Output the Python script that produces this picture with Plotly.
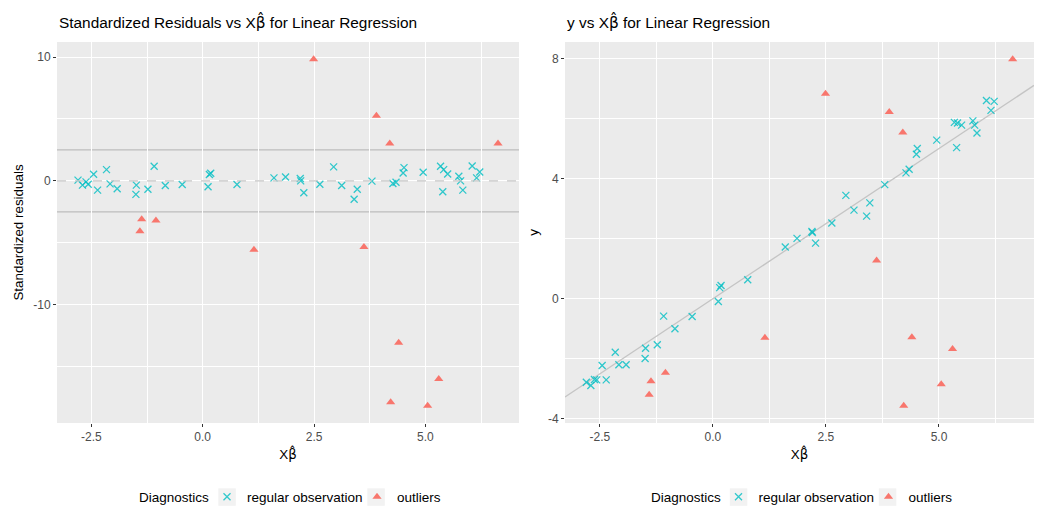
import plotly.graph_objects as go

# ---- data ----
xhat_regular = [-2.80, -2.70, -2.62, -2.57, -2.45, -2.36, -2.16, -2.08, -1.92, -1.49,
                -1.50, -1.23, -1.09, -0.84, -0.46, 0.12, 0.15, 0.18, 0.77, 1.60,
                1.86, 2.19, 2.20, 2.27, 2.63, 2.94, 3.12, 3.47, 3.40, 3.80,
                4.27, 4.34, 4.52, 4.50, 4.95, 5.34, 5.41, 5.50, 5.39, 5.75,
                5.79, 5.84, 6.05, 6.22, 6.15]
resid_regular = [0.06, -0.34, -0.08, -0.27, 0.54, -0.75, 0.91, -0.24, -0.64, -0.34,
                 -1.09, -0.67, 1.18, -0.37, -0.29, -0.48, 0.51, 0.62, -0.29, 0.24,
                 0.32, 0.19, 0.00, -0.96, -0.27, 1.13, -0.37, -0.67, -1.49, -0.02,
                 -0.21, -0.11, 1.07, 0.64, 0.70, 1.18, 0.91, 0.56, -0.88, 0.38,
                 0.00, -0.75, 1.20, 0.72, 0.24]
y_regular = [-2.78, -2.89, -2.69, -2.70, -2.22, -2.70, -1.78, -2.20, -2.20, -1.65,
             -1.99, -1.53, -0.58, -1.00, -0.59, -0.09, 0.37, 0.44, 0.63, 1.72,
             2.01, 2.24, 2.20, 1.85, 2.52, 3.44, 2.95, 3.19, 2.75, 3.80,
             4.19, 4.31, 5.00, 4.81, 5.28, 5.87, 5.85, 5.78, 5.03, 5.92,
             5.78, 5.52, 6.60, 6.57, 6.27]

xhat_outliers = [-1.37, -1.41, -1.05, 1.15, 2.49, 3.90, 4.20, 6.63, 3.62, 4.40, 5.30, 4.22, 5.05]
resid_outliers = [-3.10, -4.06, -3.21, -5.56, 9.82, 5.27, 3.02, 3.02, -5.34, -13.07, -16.0, -17.88, -18.16]
y_outliers = [-2.75, -3.20, -2.46, -1.30, 6.82, 6.22, 5.53, 7.97, 1.27, -1.28, -1.67, -3.56, -2.85]

cutoff = 2.5
group_names = ["regular observation", "outliers"]
legend_title = "Diagnostics"
color_regular = "#00BFC4"
color_outlier = "#F8766D"

W, H = 1040, 506
FONT = "Liberation Sans, Arial, sans-serif"
BHAT = "X<span style=\"font-family:DejaVu Sans\">β̂</span>"


def expand(vals, f=0.05):
    lo, hi = min(vals), max(vals)
    d = (hi - lo) * f
    return [lo - d, hi + d]


x_all = xhat_regular + xhat_outliers
xr = expand(x_all)
yr_left = expand(resid_regular + resid_outliers)
yr_right = expand(y_regular + y_outliers)

fig = go.Figure()

mk_reg = dict(symbol="x-thin", size=7, color=color_regular,
              line=dict(width=1.3, color=color_regular), opacity=0.8)
mk_out = dict(symbol="triangle-up", size=8, color=color_outlier, line=dict(width=0))

# left panel
fig.add_trace(go.Scatter(x=xhat_regular, y=resid_regular, mode="markers", marker=mk_reg,
                         name=group_names[0], xaxis="x", yaxis="y", legend="legend"))
fig.add_trace(go.Scatter(x=xhat_outliers, y=resid_outliers, mode="markers", marker=mk_out,
                         name=group_names[1], xaxis="x", yaxis="y", legend="legend"))
# right panel
fig.add_trace(go.Scatter(x=xr, y=xr, mode="lines", line=dict(color="#c4c4c4", width=1.3),
                         showlegend=False, hoverinfo="skip", xaxis="x2", yaxis="y2"))
fig.add_trace(go.Scatter(x=xhat_regular, y=y_regular, mode="markers", marker=mk_reg,
                         name=group_names[0], xaxis="x2", yaxis="y2", legend="legend2"))
fig.add_trace(go.Scatter(x=xhat_outliers, y=y_outliers, mode="markers", marker=mk_out,
                         name=group_names[1], xaxis="x2", yaxis="y2", legend="legend2"))

L1, R1 = 57 / W, 519 / W
L2, R2 = 565 / W, 1034 / W
T, B = 1 - 42 / H, 1 - 423 / H
SHIFT = 511.5  # px offset between the two panels' legends

axis_common = dict(
    showgrid=True, gridcolor="white", gridwidth=1.1, zeroline=False,
    ticks="outside", ticklen=3, tickcolor="#333333", tickwidth=1,
    tickfont=dict(family=FONT, size=12, color="#4D4D4D"),
    showline=False, mirror=False,
)
title_font = dict(family=FONT, size=13.4, color="black")

leg_common = dict(orientation="h", xanchor="left", y=1 - 497 / H, yanchor="middle",
                  font=dict(family=FONT, size=13.5, color="black"), bgcolor="rgba(0,0,0,0)",
                  itemwidth=30, entrywidth=105, entrywidthmode="pixels", borderwidth=0)

fig.update_layout(
    width=W, height=H,
    margin=dict(l=0, r=0, t=0, b=0, autoexpand=False),
    paper_bgcolor="white", plot_bgcolor="#EBEBEB",
    font=dict(family=FONT, color="black"),
    xaxis=dict(axis_common, domain=[L1, R1], range=xr, anchor="y",
               tickvals=[-2.5, 0, 2.5, 5], ticktext=["-2.5", "0.0", "2.5", "5.0"],
               minor=dict(tickvals=[-1.25, 1.25, 3.75, 6.25], showgrid=True,
                          gridcolor="white", gridwidth=0.5, ticklen=0),
               title=dict(text=BHAT, font=title_font, standoff=6)),
    yaxis=dict(axis_common, domain=[B, T], range=yr_left, anchor="x",
               tickvals=[-10, 0, 10], ticktext=["-10", "0", "10"],
               minor=dict(tickvals=[-15, -5, 5], showgrid=True,
                          gridcolor="white", gridwidth=0.5, ticklen=0),
               title=dict(text="Standardized residuals", font=title_font, standoff=6)),
    xaxis2=dict(axis_common, domain=[L2, R2], range=xr, anchor="y2",
                tickvals=[-2.5, 0, 2.5, 5], ticktext=["-2.5", "0.0", "2.5", "5.0"],
                minor=dict(tickvals=[-1.25, 1.25, 3.75, 6.25], showgrid=True,
                           gridcolor="white", gridwidth=0.5, ticklen=0),
                title=dict(text=BHAT, font=title_font, standoff=6)),
    yaxis2=dict(axis_common, domain=[B, T], range=yr_right, anchor="x2",
                tickvals=[-4, 0, 4, 8], ticktext=["-4", "0", "4", "8"],
                minor=dict(tickvals=[-2, 2, 6], showgrid=True,
                           gridcolor="white", gridwidth=0.5, ticklen=0),
                title=dict(text="y", font=title_font, standoff=6)),
    legend=dict(leg_common, x=207 / W),
    legend2=dict(leg_common, x=(207 + SHIFT) / W),
    showlegend=True,
)

# reference lines on the residual plot
fig.add_shape(type="line", xref="x domain", yref="y", x0=0, x1=1, y0=0, y1=0,
              line=dict(color="#c8c8c8", width=1.3, dash="dash"), layer="above")
for c in (cutoff, -cutoff):
    fig.add_shape(type="line", xref="x domain", yref="y", x0=0, x1=1, y0=c, y1=c,
                  line=dict(color="#bdbdbd", width=1.3), layer="below")

# legend titles and key backgrounds
for off in (0, SHIFT):
    fig.add_annotation(text=legend_title, xref="paper", yref="paper",
                       x=(211 + off) / W, y=1 - 497 / H, xanchor="right", yanchor="middle",
                       showarrow=False, font=dict(family=FONT, size=13.5, color="black"))
    for kx in (218.3, 367.3):
        fig.add_shape(type="rect", xref="paper", yref="paper",
                      x0=(kx + off) / W, x1=(kx + 17.5 + off) / W,
                      y0=1 - 505.8 / H, y1=1 - 488.3 / H,
                      fillcolor="#F2F2F2", line=dict(width=0), layer="below")

# panel titles
fig.add_annotation(text="Standardized Residuals vs " + BHAT + " for Linear Regression", xref="paper", yref="paper",
                   x=L1, y=1 - 22 / H, xanchor="left", yanchor="middle", showarrow=False,
                   font=dict(family=FONT, size=15.4, color="black"))
fig.add_annotation(text="y vs " + BHAT + " for Linear Regression", xref="paper", yref="paper",
                   x=L2, y=1 - 22 / H, xanchor="left", yanchor="middle", showarrow=False,
                   font=dict(family=FONT, size=15.4, color="black"))

fig.write_html("out.html", post_script="document.body.style.margin='0px';",
               config={"displayModeBar": False})
